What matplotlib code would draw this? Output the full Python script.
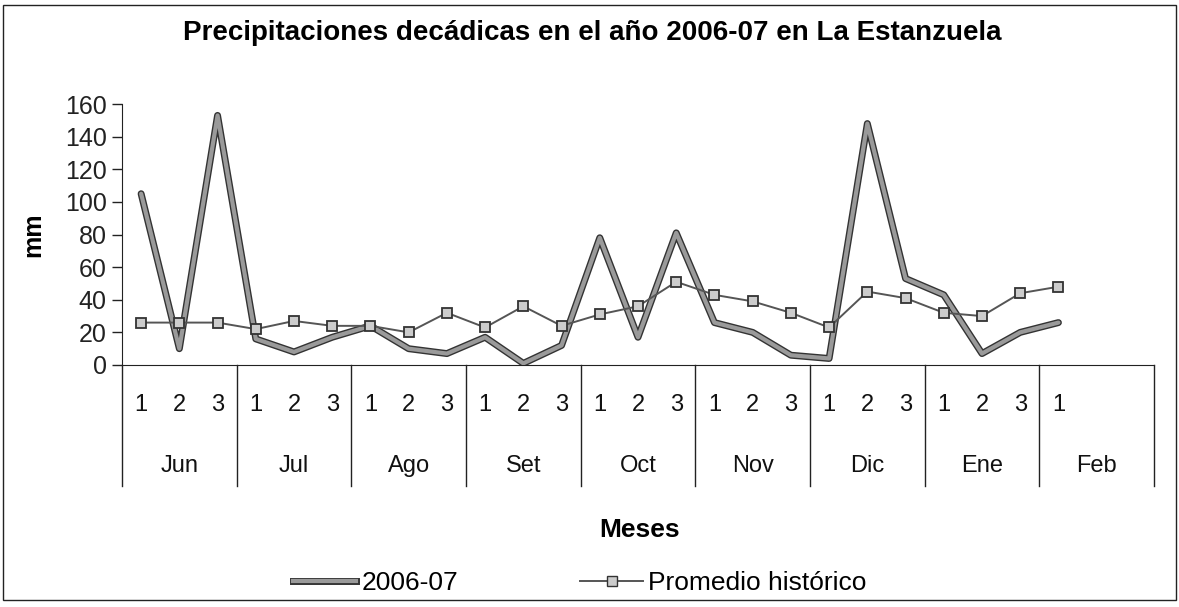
import matplotlib
matplotlib.use("Agg")
import matplotlib.pyplot as plt
import matplotlib.patheffects as pe
from matplotlib.lines import Line2D
from matplotlib.patches import Rectangle
import matplotlib.transforms as mtransforms

plt.rcParams['font.family'] = ['Liberation Sans', 'DejaVu Sans']

months = ["Jun", "Jul", "Ago", "Set", "Oct", "Nov", "Dic", "Ene", "Feb"]
decades = ["1", "2", "3"] * 8 + ["1", "", ""]
serie_2006_07 = [105, 10, 153, 16, 8, 17, 24, 10, 7, 17, 1, 12,
                 78, 17, 81, 26, 20, 6, 4, 148, 53, 43, 7, 20, 26]
promedio = [26, 26, 26, 22, 27, 24, 24, 20, 32, 23, 36, 24,
            31, 36, 51, 43, 39, 32, 23, 45, 41, 32, 30, 44, 48]
yticks = [0, 20, 40, 60, 80, 100, 120, 140, 160]

W, H = 1179, 607
fig = plt.figure(figsize=(W / 100, H / 100), dpi=100)
fig.patches.append(Rectangle((3 / W, 1 - 600 / H), 1173 / W, 595 / H,
                             transform=fig.transFigure, fill=False,
                             edgecolor='#222222', lw=1.0))

ax = fig.add_axes([122 / W, 1 - 365 / H, (1154 - 122) / W, (365 - 104) / H])
n = len(decades)
x = list(range(len(serie_2006_07)))

thick_fx = [pe.Stroke(linewidth=5, foreground='#333333'), pe.Normal()]
ax.plot(x, serie_2006_07, color='#9a9a9a', lw=3, solid_joinstyle='round',
        solid_capstyle='round', path_effects=thick_fx, zorder=3)
ax.plot(x, promedio, color='#555555', lw=1.4, marker='s', markersize=7,
        markerfacecolor='#cccccc', markeredgecolor='#333333', markeredgewidth=1.3,
        zorder=4)

ax.set_xlim(-0.5, n - 0.5)
ax.set_ylim(0, 160)
ax.set_yticks(yticks)
ax.set_yticklabels([str(v) for v in yticks], fontsize=18)
ax.tick_params(axis='y', length=7, width=1, pad=4, colors='#222222')
ax.set_xticks([])
for s in ['top', 'right']:
    ax.spines[s].set_visible(False)
ax.spines['left'].set_color('#222222')
ax.spines['bottom'].set_color('#222222')
ax.set_ylabel('mm', fontsize=18, fontweight='bold', labelpad=14)

trans = mtransforms.blended_transform_factory(ax.transData, fig.transFigure)
for i, d in enumerate(decades):
    if d:
        ax.text(i, 1 - 405 / H, d, transform=trans, ha='center', va='center',
                fontsize=17, color='#111111')
for m, name in enumerate(months):
    c = m * 3 + 1
    ax.text(c, 1 - 466 / H, name, transform=trans, ha='center', va='center',
            fontsize=17, color='#111111')
for b in range(0, n + 1, 3):
    ax.add_line(Line2D([b - 0.5, b - 0.5], [1 - 365 / H, 1 - 486 / H],
                       transform=trans, color='#222222', lw=1, clip_on=False))

fig.text(640 / W, 1 - 530 / H, 'Meses', ha='center', va='center',
         fontsize=19, fontweight='bold')
fig.text(592 / W, 1 - 33 / H, 'Precipitaciones decádicas en el año 2006-07 en La Estanzuela',
         ha='center', va='center', fontsize=20, fontweight='bold')

h1 = Line2D([], [], color='#9a9a9a', lw=3, path_effects=thick_fx)
h2 = Line2D([], [], color='#555555', lw=1.4, marker='s', markersize=7,
            markerfacecolor='#cccccc', markeredgecolor='#333333')
fig.legend([h1, h2], ['2006-07', 'Promedio histórico'], loc='center',
           bbox_to_anchor=(580 / W, 1 - 583 / H), ncol=2, frameon=False,
           fontsize=19, handlelength=2.4, handletextpad=0.2, columnspacing=4.6)

fig.savefig('out.png', dpi=100)
